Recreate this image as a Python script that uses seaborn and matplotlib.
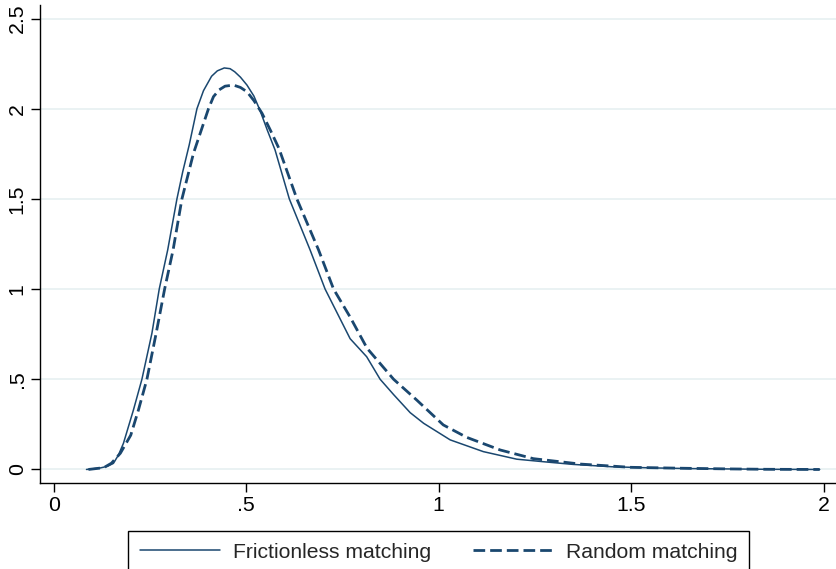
import matplotlib
matplotlib.use("Agg")
import matplotlib.pyplot as plt
import seaborn as sns
import pandas as pd

# ---- data ----
fric_x = [0.085, 0.12, 0.14, 0.155, 0.168, 0.181, 0.207, 0.229, 0.255, 0.274, 0.296,
          0.320, 0.335, 0.352, 0.372, 0.389, 0.41, 0.425, 0.443, 0.458, 0.47, 0.485,
          0.502, 0.52, 0.536, 0.555, 0.575, 0.612, 0.666, 0.705, 0.77, 0.813, 0.848,
          0.883, 0.926, 0.961, 1.03, 1.116, 1.203, 1.272, 1.35, 1.45, 1.55, 1.65,
          1.75, 1.85, 1.99]
fric_y = [0.0, 0.008, 0.018, 0.034, 0.08, 0.145, 0.33, 0.5, 0.755, 1.0, 1.217,
          1.5, 1.65, 1.80, 2.0, 2.1, 2.18, 2.21, 2.226, 2.222, 2.205, 2.175,
          2.131, 2.07, 1.99, 1.88, 1.771, 1.50, 1.217, 1.0, 0.725, 0.625, 0.5,
          0.415, 0.315, 0.256, 0.164, 0.099, 0.057, 0.043, 0.028, 0.015, 0.009, 0.005,
          0.003, 0.001, 0.0]

rand_x = [0.09, 0.13, 0.15, 0.173, 0.20, 0.220, 0.242, 0.266, 0.288, 0.310, 0.333,
          0.363, 0.402, 0.415, 0.43, 0.445, 0.467, 0.485, 0.502, 0.52, 0.541, 0.563,
          0.585, 0.632, 0.688, 0.727, 0.77, 0.814, 0.883, 0.943, 1.012, 1.073, 1.160,
          1.246, 1.368, 1.498, 1.627, 1.757, 1.85, 1.99]
rand_y = [0.0, 0.01, 0.035, 0.09, 0.19, 0.33, 0.5, 0.755, 1.0, 1.217, 1.5,
          1.753, 2.0, 2.067, 2.105, 2.125, 2.131, 2.118, 2.094, 2.045, 1.975, 1.88,
          1.78, 1.498, 1.217, 1.0, 0.845, 0.672, 0.5, 0.385, 0.247, 0.178, 0.108,
          0.060, 0.03, 0.012, 0.007, 0.003, 0.001, 0.0]

series_names = ["Frictionless matching", "Random matching"]
x_ticks = [0, 0.5, 1, 1.5, 2]
x_tick_labels = ["0", ".5", "1", "1.5", "2"]
y_ticks = [0, 0.5, 1, 1.5, 2, 2.5]
y_tick_labels = ["0", ".5", "1", "1.5", "2", "2.5"]

# ---- style ----
sns.set_theme(style="white")
plt.rcParams["font.family"] = ["Liberation Sans", "DejaVu Sans"]

W, H = 837, 569
fig = plt.figure(figsize=(W / 100, H / 100), dpi=100)
ax = fig.add_axes([40.3 / W, 1 - 483 / H, 1 - 40.3 / W, (483 - 5) / H])

navy = "#1A476F"
df_f = pd.DataFrame({"x": fric_x, "y": fric_y})
df_r = pd.DataFrame({"x": rand_x, "y": rand_y})

sns.lineplot(data=df_f, x="x", y="y", ax=ax, color=navy, lw=1.1, sort=False,
             estimator=None, label=series_names[0])
sns.lineplot(data=df_r, x="x", y="y", ax=ax, color=navy, lw=2.0, sort=False,
             estimator=None, label=series_names[1])
ax.lines[1].set_linestyle((0, (4.2, 1.8)))

ax.set_xlim(-0.035, 2.035)
ax.set_ylim(-0.075, 2.575)
ax.set_xlabel("")
ax.set_ylabel("")

ax.set_xticks(x_ticks, labels=x_tick_labels)
ax.set_yticks(y_ticks, labels=y_tick_labels)
for lab in ax.get_yticklabels():
    lab.set_rotation(90)
    lab.set_va("center")

ax.tick_params(axis="both", which="major", direction="out", length=6.5, width=1.0,
               color="black", labelsize=15.3, labelcolor="black", left=True, bottom=True)
ax.tick_params(axis="x", pad=3.2)
ax.tick_params(axis="y", pad=3.3)

ax.yaxis.grid(True, color="#EAF2F3", linewidth=1.4)
ax.xaxis.grid(False)
ax.set_axisbelow(True)

for side in ["top", "right"]:
    ax.spines[side].set_visible(False)
for side in ["left", "bottom"]:
    ax.spines[side].set_color("black")
    ax.spines[side].set_linewidth(1.0)

ax.get_legend().remove()
handles, labels = ax.get_legend_handles_labels()
leg = fig.legend(handles, labels, loc="upper center",
                 bbox_to_anchor=(438.5 / W, 1 - 531 / H), bbox_transform=fig.transFigure,
                 ncol=2, fontsize=15.2, frameon=True, fancybox=False, framealpha=1,
                 edgecolor="black", borderpad=0.55, handlelength=3.8,
                 handletextpad=0.6, columnspacing=2.0, borderaxespad=0)
leg.get_frame().set_linewidth(1.0)

fig.savefig("out.png", dpi=100)
